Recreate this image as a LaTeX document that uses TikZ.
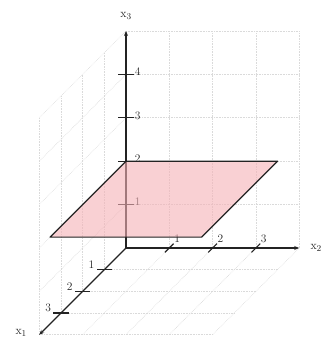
\documentclass[tikz,border=0pt]{standalone}
\usetikzlibrary{arrows.meta}
\definecolor{planefill}{RGB}{245,177,182}
\definecolor{axiscol}{RGB}{35,35,35}
\definecolor{gridcol}{RGB}{218,218,218}
\begin{document}
\begin{tikzpicture}[x=1pt,y=1pt,
  gridline/.style={gridcol, line width=0.6pt, densely dotted},
  axisline/.style={axiscol, line width=1.2pt, -{Stealth[length=5pt,width=4pt]}},
  tickmark/.style={axiscol, line width=1.2pt},
  ticklabel/.style={font=\fontsize{11.5}{13}\selectfont, inner sep=1pt, text=axiscol},
  axislabel/.style={font=\fontsize{13}{15}\selectfont, inner sep=0pt, text=axiscol},
  plane/.style={fill=planefill, fill opacity=0.6, draw=axiscol, line width=1.2pt, line join=round}]
\useasboundingbox (0,0) rectangle (323,338);
\clip (0,0) rectangle (323,338);
\begin{scope}[shift={(126,90)}, x={(-21.7pt,-21.7pt)}, y={(43.3pt,0pt)}, z={(0pt,43.4pt)}]
  % grid: back wall (x1=0)
  \foreach \j in {1,...,4} \draw[gridline] (0,\j,0) -- (0,\j,5);
  \foreach \k in {1,...,5} \draw[gridline] (0,0,\k) -- (0,4,\k);
  % grid: left wall (x2=0)
  \foreach \i in {1,...,4} \draw[gridline] (\i,0,0) -- (\i,0,5);
  \foreach \k in {1,...,5} \draw[gridline] (0,0,\k) -- (4,0,\k);
  % grid: floor (x3=0)
  \foreach \i in {1,...,4} \draw[gridline] (\i,0,0) -- (\i,4,0);
  \foreach \j in {1,...,4} \draw[gridline] (0,\j,0) -- (4,\j,0);
  % axes
  \coordinate (O) at (0,0,0);
  \coordinate (E1) at (4,0,0);
  \coordinate (E2) at (0,4,0);
  \coordinate (E3) at (0,0,5);
  \draw[axisline] (O) -- (E1);
  \draw[axisline] (O) -- (E2);
  \draw[axisline] (O) -- (E3);
  % ticks
  \foreach \k in {1,...,4} {
    \draw[tickmark] (0,-0.18,\k) -- (0,0.18,\k) coordinate (t3e\k);
    \node[ticklabel, anchor=west] (l3\k) at ([yshift=2.5pt]t3e\k) {\k};
  }
  \foreach \j in {1,...,3} {
    \draw[tickmark] (0.2,\j,0) -- (-0.2,\j,0) coordinate (t2e\j);
    \node[ticklabel, anchor=south west, inner sep=0.5pt] (l2\j) at (t2e\j) {\j};
  }
  \foreach \i in {1,...,3} {
    \draw[tickmark] (\i,0.18,0) -- (\i,-0.18,0) coordinate (t1e\i);
    \node[ticklabel, anchor=south east] (l1\i) at ([xshift=-1pt]t1e\i) {\i};
  }
  % plane x3 = 2
  \path[plane] (0,0,2) -- (0,3.5,2) -- (3.5,3.5,2) -- (3.5,0,2) -- cycle;
  % axis labels
  \node[axislabel] (lab3) at ([yshift=15pt]E3) {$\mathrm{x}_3$};
  \node[axislabel] (lab2) at ([xshift=17pt]E2) {$\mathrm{x}_2$};
  \node[axislabel, anchor=south] (lab1) at ([xshift=-18pt,yshift=-2pt]E1) {$\mathrm{x}_1$};
\end{scope}
\end{tikzpicture}
\end{document}
